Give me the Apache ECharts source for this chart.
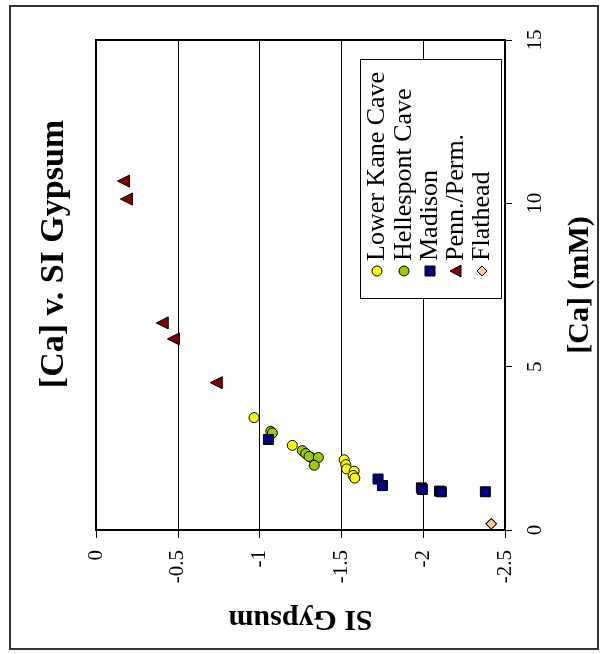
<!DOCTYPE html>
<html>
<head>
<meta charset="utf-8">
<title>[Ca] v. SI Gypsum</title>
<script src="https://cdn.jsdelivr.net/npm/echarts@6/dist/echarts.min.js"></script>
<style>
    html, body { margin: 0; padding: 0; background: #fff; }
    #chart { width: 605px; height: 654px; }
</style>
</head>
<body>
<div id="chart"></div>
<script>
// series names, in drawing order
var seriesNames = ['Lower Kane Cave', 'Hellespont Cave', 'Madison', 'Penn./Perm.', 'Flathead'];

// SI Gypsum (x) and [Ca] mM (y)
var lowerKaneSI = [-0.966, -1.200, -1.315, -1.517, -1.527, -1.532, -1.578, -1.572, -1.582];
var lowerKaneCa = [3.44, 2.59, 2.22, 2.15, 2.00, 1.87, 1.80, 1.67, 1.59];
var hellespontSI = [-1.068, -1.078, -1.261, -1.282, -1.302, -1.359, -1.334];
var hellespontCa = [3.02, 2.97, 2.43, 2.34, 2.25, 2.22, 1.98];
var madisonSI = [-1.054, -1.724, -1.751, -1.989, -1.995, -2.100, -2.111, -2.380];
var madisonCa = [2.77, 1.56, 1.36, 1.29, 1.24, 1.19, 1.17, 1.17];
var pennPermSI = [-0.168, -0.186, -0.405, -0.473, -0.735];
var pennPermCa = [10.68, 10.13, 6.34, 5.85, 4.51];
var flatheadSI = [-2.416];
var flatheadCa = [0.19];

// axis ticks
var siTicks = [0, -0.5, -1, -1.5, -2, -2.5];
var caTicks = [0, 5, 10, 15];

var FONT = '"Liberation Serif", "Times New Roman", serif';

function pairs(xs, ys) {
    var out = [];
    for (var i = 0; i < xs.length; i++) {
        out.push([xs[i], ys[i]]);
    }
    return out;
}

// look of each series (marker, colour)
var markers = [
    { symbol: 'circle', size: 10, rotate: 0, color: '#ffff00' },
    { symbol: 'circle', size: 10, rotate: 0, color: '#99cc00' },
    { symbol: 'rect', size: 10, rotate: 0, color: '#000080' },
    { symbol: 'triangle', size: 12, rotate: 90, color: '#800000' },
    { symbol: 'rect', size: 7.5, rotate: 45, color: '#ffcc99' }
];
var seriesData = [
    pairs(lowerKaneSI, lowerKaneCa),
    pairs(hellespontSI, hellespontCa),
    pairs(madisonSI, madisonCa),
    pairs(pennPermSI, pennPermCa),
    pairs(flatheadSI, flatheadCa)
];

var series = [];
for (var s = 0; s < seriesNames.length; s++) {
    series.push({
        name: seriesNames[s],
        type: 'scatter',
        symbol: markers[s].symbol,
        symbolSize: markers[s].size,
        symbolRotate: markers[s].rotate,
        itemStyle: { color: markers[s].color, borderColor: '#000', borderWidth: 1, opacity: 1 },
        z: 10 + s,
        data: seriesData[s]
    });
}

// legend drawn by hand, since its text is turned on its side
var legendItems = [
    { type: 'rect', shape: { x: 360.5, y: 59.5, width: 141, height: 239 },
      style: { fill: '#fff', stroke: '#000', lineWidth: 1 }, z: 100 }
];
var colX = [377, 404, 430, 456, 482];
for (var k = 0; k < seriesNames.length; k++) {
    var m = markers[k];
    var icon;
    if (m.symbol == 'circle') {
        icon = { type: 'circle', shape: { cx: colX[k], cy: 271, r: 5 } };
    } else if (m.symbol == 'triangle') {
        icon = { type: 'polygon', shape: { points: [[colX[k] - 6, 271], [colX[k] + 5, 265], [colX[k] + 5, 277]] } };
    } else if (m.rotate == 45) {
        icon = { type: 'polygon', shape: { points: [[colX[k], 266], [colX[k] + 5, 271], [colX[k], 276], [colX[k] - 5, 271]] } };
    } else {
        icon = { type: 'rect', shape: { x: colX[k] - 5, y: 266, width: 10, height: 10 } };
    }
    icon.style = { fill: m.color, stroke: '#000', lineWidth: 1 };
    icon.z = 101;
    legendItems.push(icon);
    legendItems.push({
        type: 'text', x: colX[k], y: 261, rotation: Math.PI / 2, z: 101,
        style: { text: seriesNames[k], fill: '#000', font: '26px ' + FONT,
                 align: 'left', verticalAlign: 'middle' }
    });
}

var myChart = echarts.init(document.getElementById('chart'), null, { renderer: 'canvas' });

var option = {
    animation: false,
    backgroundColor: '#fff',
    grid: {
        left: 96, top: 40, right: 100, bottom: 124,
        show: true, borderColor: '#000', borderWidth: 2, backgroundColor: 'transparent'
    },
    xAxis: {
        type: 'value',
        min: siTicks[siTicks.length - 1],
        max: siTicks[0],
        interval: 0.5,
        inverse: true,
        name: 'SI Gypsum',
        nameLocation: 'middle',
        nameGap: 74,
        nameRotate: 180,
        nameTextStyle: { fontFamily: FONT, fontSize: 30, fontWeight: 'bold', color: '#000' },
        axisLine: { show: true, onZero: false, lineStyle: { color: '#000', width: 2 } },
        axisTick: { show: true, inside: false, length: 8, lineStyle: { color: '#000', width: 1 } },
        axisLabel: { rotate: 90, margin: 20, fontFamily: FONT, fontSize: 21, color: '#000' },
        splitLine: { show: true, lineStyle: { color: '#000', width: 1 } }
    },
    yAxis: {
        type: 'value',
        position: 'right',
        min: caTicks[0],
        max: caTicks[caTicks.length - 1],
        interval: 5,
        name: '[Ca] (mM)',
        nameLocation: 'middle',
        nameGap: 60,
        nameRotate: 90,
        nameTextStyle: { fontFamily: FONT, fontSize: 30, fontWeight: 'bold', color: '#000' },
        axisLine: { show: true, onZero: false, lineStyle: { color: '#000', width: 2 } },
        axisTick: { show: true, inside: false, length: 7, lineStyle: { color: '#000', width: 1 } },
        axisLabel: { rotate: 90, margin: 20, fontFamily: FONT, fontSize: 21, color: '#000' },
        splitLine: { show: false }
    },
    graphic: [
        { type: 'rect', shape: { x: 10, y: 6, width: 588, height: 643 },
          style: { fill: 'none', stroke: '#333', lineWidth: 2 }, z: 0 },
        { type: 'text', x: 54, y: 254, rotation: Math.PI / 2, z: 50,
          style: { text: '[Ca] v. SI Gypsum', fill: '#000', font: 'bold 34px ' + FONT,
                   align: 'center', verticalAlign: 'middle' } },
        { type: 'group', children: legendItems, z: 100 }
    ],
    series: series
};

myChart.setOption(option);
</script>
</body>
</html>
